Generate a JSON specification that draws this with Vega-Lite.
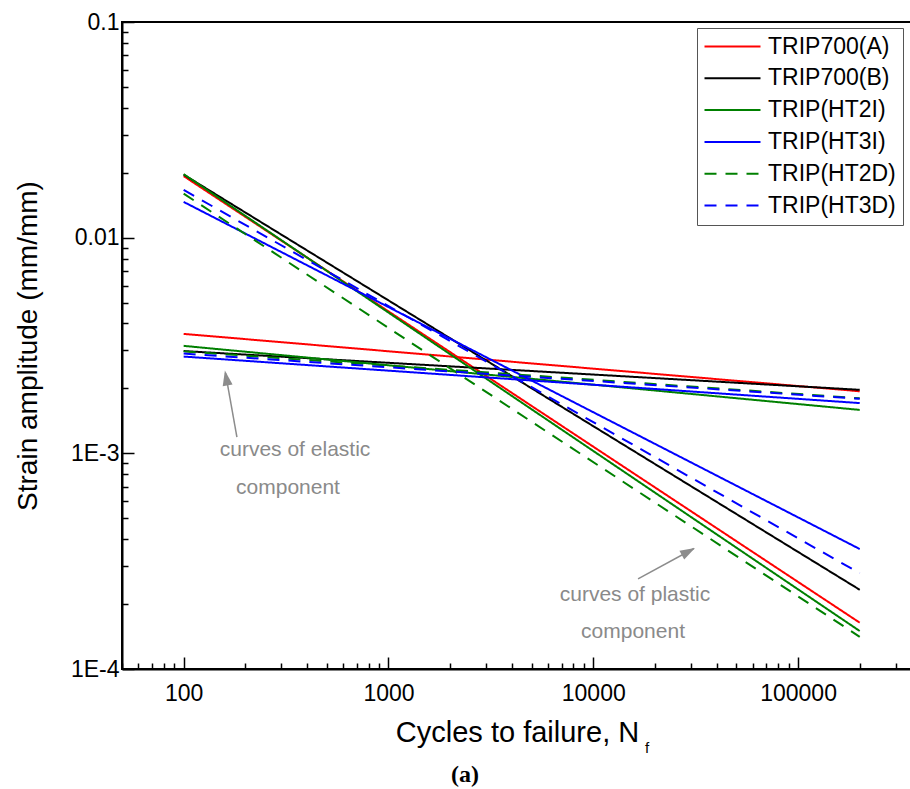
{
  "$schema": "https://vega.github.io/schema/vega-lite/v6.json",
  "width": 790,
  "height": 647,
  "autosize": "none",
  "padding": {"left": 122, "top": 22, "right": 0, "bottom": 120},
  "background": "white",
  "config": {
    "view": {"stroke": "black", "strokeWidth": 2},
    "font": "Liberation Sans"
  },
  "datasets": {
    "lines": [
      {"series": "TRIP700(A)", "component": "elastic", "N": 100, "strain": 0.00358},
      {"series": "TRIP700(A)", "component": "elastic", "N": 200000, "strain": 0.00194},
      {"series": "TRIP700(A)", "component": "plastic", "N": 100, "strain": 0.0193},
      {"series": "TRIP700(A)", "component": "plastic", "N": 200000, "strain": 0.000164},
      {"series": "TRIP700(B)", "component": "elastic", "N": 100, "strain": 0.00298},
      {"series": "TRIP700(B)", "component": "elastic", "N": 200000, "strain": 0.00197},
      {"series": "TRIP700(B)", "component": "plastic", "N": 100, "strain": 0.0196},
      {"series": "TRIP700(B)", "component": "plastic", "N": 200000, "strain": 0.000233},
      {"series": "TRIP(HT2I)", "component": "elastic", "N": 100, "strain": 0.00315},
      {"series": "TRIP(HT2I)", "component": "elastic", "N": 200000, "strain": 0.00159},
      {"series": "TRIP(HT2I)", "component": "plastic", "N": 100, "strain": 0.0197},
      {"series": "TRIP(HT2I)", "component": "plastic", "N": 200000, "strain": 0.00015},
      {"series": "TRIP(HT3I)", "component": "elastic", "N": 100, "strain": 0.00281},
      {"series": "TRIP(HT3I)", "component": "elastic", "N": 200000, "strain": 0.00171},
      {"series": "TRIP(HT3I)", "component": "plastic", "N": 100, "strain": 0.01465},
      {"series": "TRIP(HT3I)", "component": "plastic", "N": 200000, "strain": 0.00036},
      {"series": "TRIP(HT2D)", "component": "elastic", "N": 100, "strain": 0.00297},
      {"series": "TRIP(HT2D)", "component": "elastic", "N": 200000, "strain": 0.0018},
      {"series": "TRIP(HT2D)", "component": "plastic", "N": 100, "strain": 0.016},
      {"series": "TRIP(HT2D)", "component": "plastic", "N": 200000, "strain": 0.000141},
      {"series": "TRIP(HT3D)", "component": "elastic", "N": 100, "strain": 0.0029},
      {"series": "TRIP(HT3D)", "component": "elastic", "N": 200000, "strain": 0.00179},
      {"series": "TRIP(HT3D)", "component": "plastic", "N": 100, "strain": 0.01664},
      {"series": "TRIP(HT3D)", "component": "plastic", "N": 200000, "strain": 0.000278}
    ],
    "arrows": [
      {"N": 182, "strain": 0.00119, "N2": 160, "strain2": 0.00236},
      {"N": 16540, "strain": 0.000262, "N2": 31000, "strain2": 0.000362}
    ],
    "heads": [
      {"N": 159, "strain": 0.00242, "angle": 349.5},
      {"N": 31390, "strain": 0.000364, "angle": 61.5}
    ],
    "notes": [
      {"N": 349.8, "strain": 0.001036, "label": "curves of elastic"},
      {"N": 323.2, "strain": 0.000691, "label": "component"},
      {"N": 15990, "strain": 0.0002203, "label": "curves of plastic"},
      {"N": 15640, "strain": 0.0001485, "label": "component"}
    ],
    "sub": [
      {"N": 18300, "strain": 0.000043, "label": "f"}
    ],
    "caption": [
      {"N": 2364, "strain": 0.00003225, "label": "(a)"}
    ]
  },
  "encoding": {
    "x": {
      "field": "N",
      "type": "quantitative",
      "scale": {"type": "log", "domain": [50, 360000], "nice": false, "zero": false},
      "axis": {
        "title": "Cycles to failure, N",
        "titleFontSize": 29,
        "titleFontWeight": "normal",
        "titleColor": "black",
        "titlePadding": 7,
        "values": [50, 60, 70, 80, 90, 100, 200, 300, 400, 500, 600, 700, 800, 900, 1000, 2000, 3000, 4000, 5000, 6000, 7000, 8000, 9000, 10000, 20000, 30000, 40000, 50000, 60000, 70000, 80000, 90000, 100000, 200000, 300000],
        "labelExpr": "datum.value == 100 || datum.value == 1000 || datum.value == 10000 || datum.value == 100000 ? format(datum.value, 'd') : ''",
        "labelOverlap": false,
        "labelFlush": false,
        "labelFontSize": 23,
        "labelColor": "black",
        "labelPadding": 25,
        "tickSize": {"condition": {"test": "datum.value == 100 || datum.value == 1000 || datum.value == 10000 || datum.value == 100000", "value": -12}, "value": -6},
        "tickColor": "black",
        "tickWidth": 1.5,
        "domainColor": "black",
        "domainWidth": 2,
        "grid": false
      }
    },
    "y": {
      "field": "strain",
      "type": "quantitative",
      "scale": {"type": "log", "domain": [0.0001, 0.1], "nice": false, "zero": false},
      "axis": {
        "title": "Strain amplitude (mm/mm)",
        "titleFontSize": 28,
        "titleFontWeight": "normal",
        "titleColor": "black",
        "titlePadding": 28,
        "values": [0.0001, 0.0002, 0.0003, 0.0004, 0.0005, 0.0006, 0.0007, 0.0008, 0.0009, 0.001, 0.002, 0.003, 0.004, 0.005, 0.006, 0.007, 0.008, 0.009, 0.01, 0.02, 0.03, 0.04, 0.05, 0.06, 0.07, 0.08, 0.09, 0.1],
        "labelExpr": "datum.value == 0.1 ? '0.1' : datum.value == 0.01 ? '0.01' : datum.value == 0.001 ? '1E-3' : datum.value == 0.0001 ? '1E-4' : ''",
        "labelOverlap": false,
        "labelFlush": false,
        "labelFontSize": 23,
        "labelColor": "black",
        "labelPadding": 15,
        "tickSize": {"condition": {"test": "datum.value == 0.1 || datum.value == 0.01 || datum.value == 0.001 || datum.value == 0.0001", "value": -12}, "value": -6},
        "tickColor": "black",
        "tickWidth": 1.5,
        "domainColor": "black",
        "domainWidth": 2,
        "grid": false
      }
    }
  },
  "layer": [
    {
      "data": {"name": "lines"},
      "mark": {"type": "line", "strokeWidth": 2},
      "encoding": {
        "color": {
          "field": "series",
          "type": "nominal",
          "scale": {
            "domain": ["TRIP700(A)", "TRIP700(B)", "TRIP(HT2I)", "TRIP(HT3I)", "TRIP(HT2D)", "TRIP(HT3D)"],
            "range": ["#ff0000", "#000000", "#008000", "#0000ff", "#008000", "#0000ff"]
          },
          "legend": {
            "title": null,
            "orient": "none",
            "legendX": 575,
            "legendY": 6,
            "symbolType": "M-1.1,0L4.5,0",
            "symbolSize": 400,
            "symbolStrokeWidth": 2,
            "labelFontSize": 23,
            "labelColor": "black",
            "labelOffset": 41,
            "labelLimit": 300,
            "rowPadding": 7.8,
            "padding": 7,
            "strokeColor": "#555555",
            "fillColor": "white"
          }
        },
        "strokeDash": {
          "field": "series",
          "type": "nominal",
          "scale": {
            "domain": ["TRIP700(A)", "TRIP700(B)", "TRIP(HT2I)", "TRIP(HT3I)", "TRIP(HT2D)", "TRIP(HT3D)"],
            "range": [[1, 0], [1, 0], [1, 0], [1, 0], [12, 9], [12, 9]]
          },
          "legend": {
            "title": null,
            "orient": "none",
            "legendX": 575,
            "legendY": 6,
            "symbolType": "M-1.1,0L4.5,0",
            "symbolSize": 400,
            "symbolStrokeWidth": 2,
            "labelFontSize": 23,
            "labelColor": "black",
            "labelOffset": 41,
            "labelLimit": 300,
            "rowPadding": 7.8,
            "padding": 7,
            "strokeColor": "#555555",
            "fillColor": "white"
          }
        },
        "detail": {"field": "component", "type": "nominal"}
      }
    },
    {
      "data": {"name": "arrows"},
      "mark": {"type": "rule", "color": "#8c8c8c", "strokeWidth": 1.5},
      "encoding": {
        "x2": {"field": "N2"},
        "y2": {"field": "strain2"}
      }
    },
    {
      "data": {"name": "heads"},
      "mark": {"type": "point", "shape": "M0,0L-0.5,1.5L0.5,1.5Z", "filled": true, "color": "#8c8c8c", "size": 400, "opacity": 1},
      "encoding": {
        "angle": {"field": "angle", "type": "quantitative", "scale": null}
      }
    },
    {
      "data": {"name": "notes"},
      "mark": {"type": "text", "fontSize": 21, "color": "#8a8a8a", "align": "center", "baseline": "middle"},
      "encoding": {"text": {"field": "label"}}
    },
    {
      "data": {"name": "sub"},
      "mark": {"type": "text", "fontSize": 15, "color": "black", "align": "center", "baseline": "middle"},
      "encoding": {"text": {"field": "label"}}
    },
    {
      "data": {"name": "caption"},
      "mark": {"type": "text", "fontSize": 24, "font": "Liberation Serif", "fontWeight": "bold", "color": "black", "align": "center", "baseline": "middle"},
      "encoding": {"text": {"field": "label"}}
    }
  ]
}
